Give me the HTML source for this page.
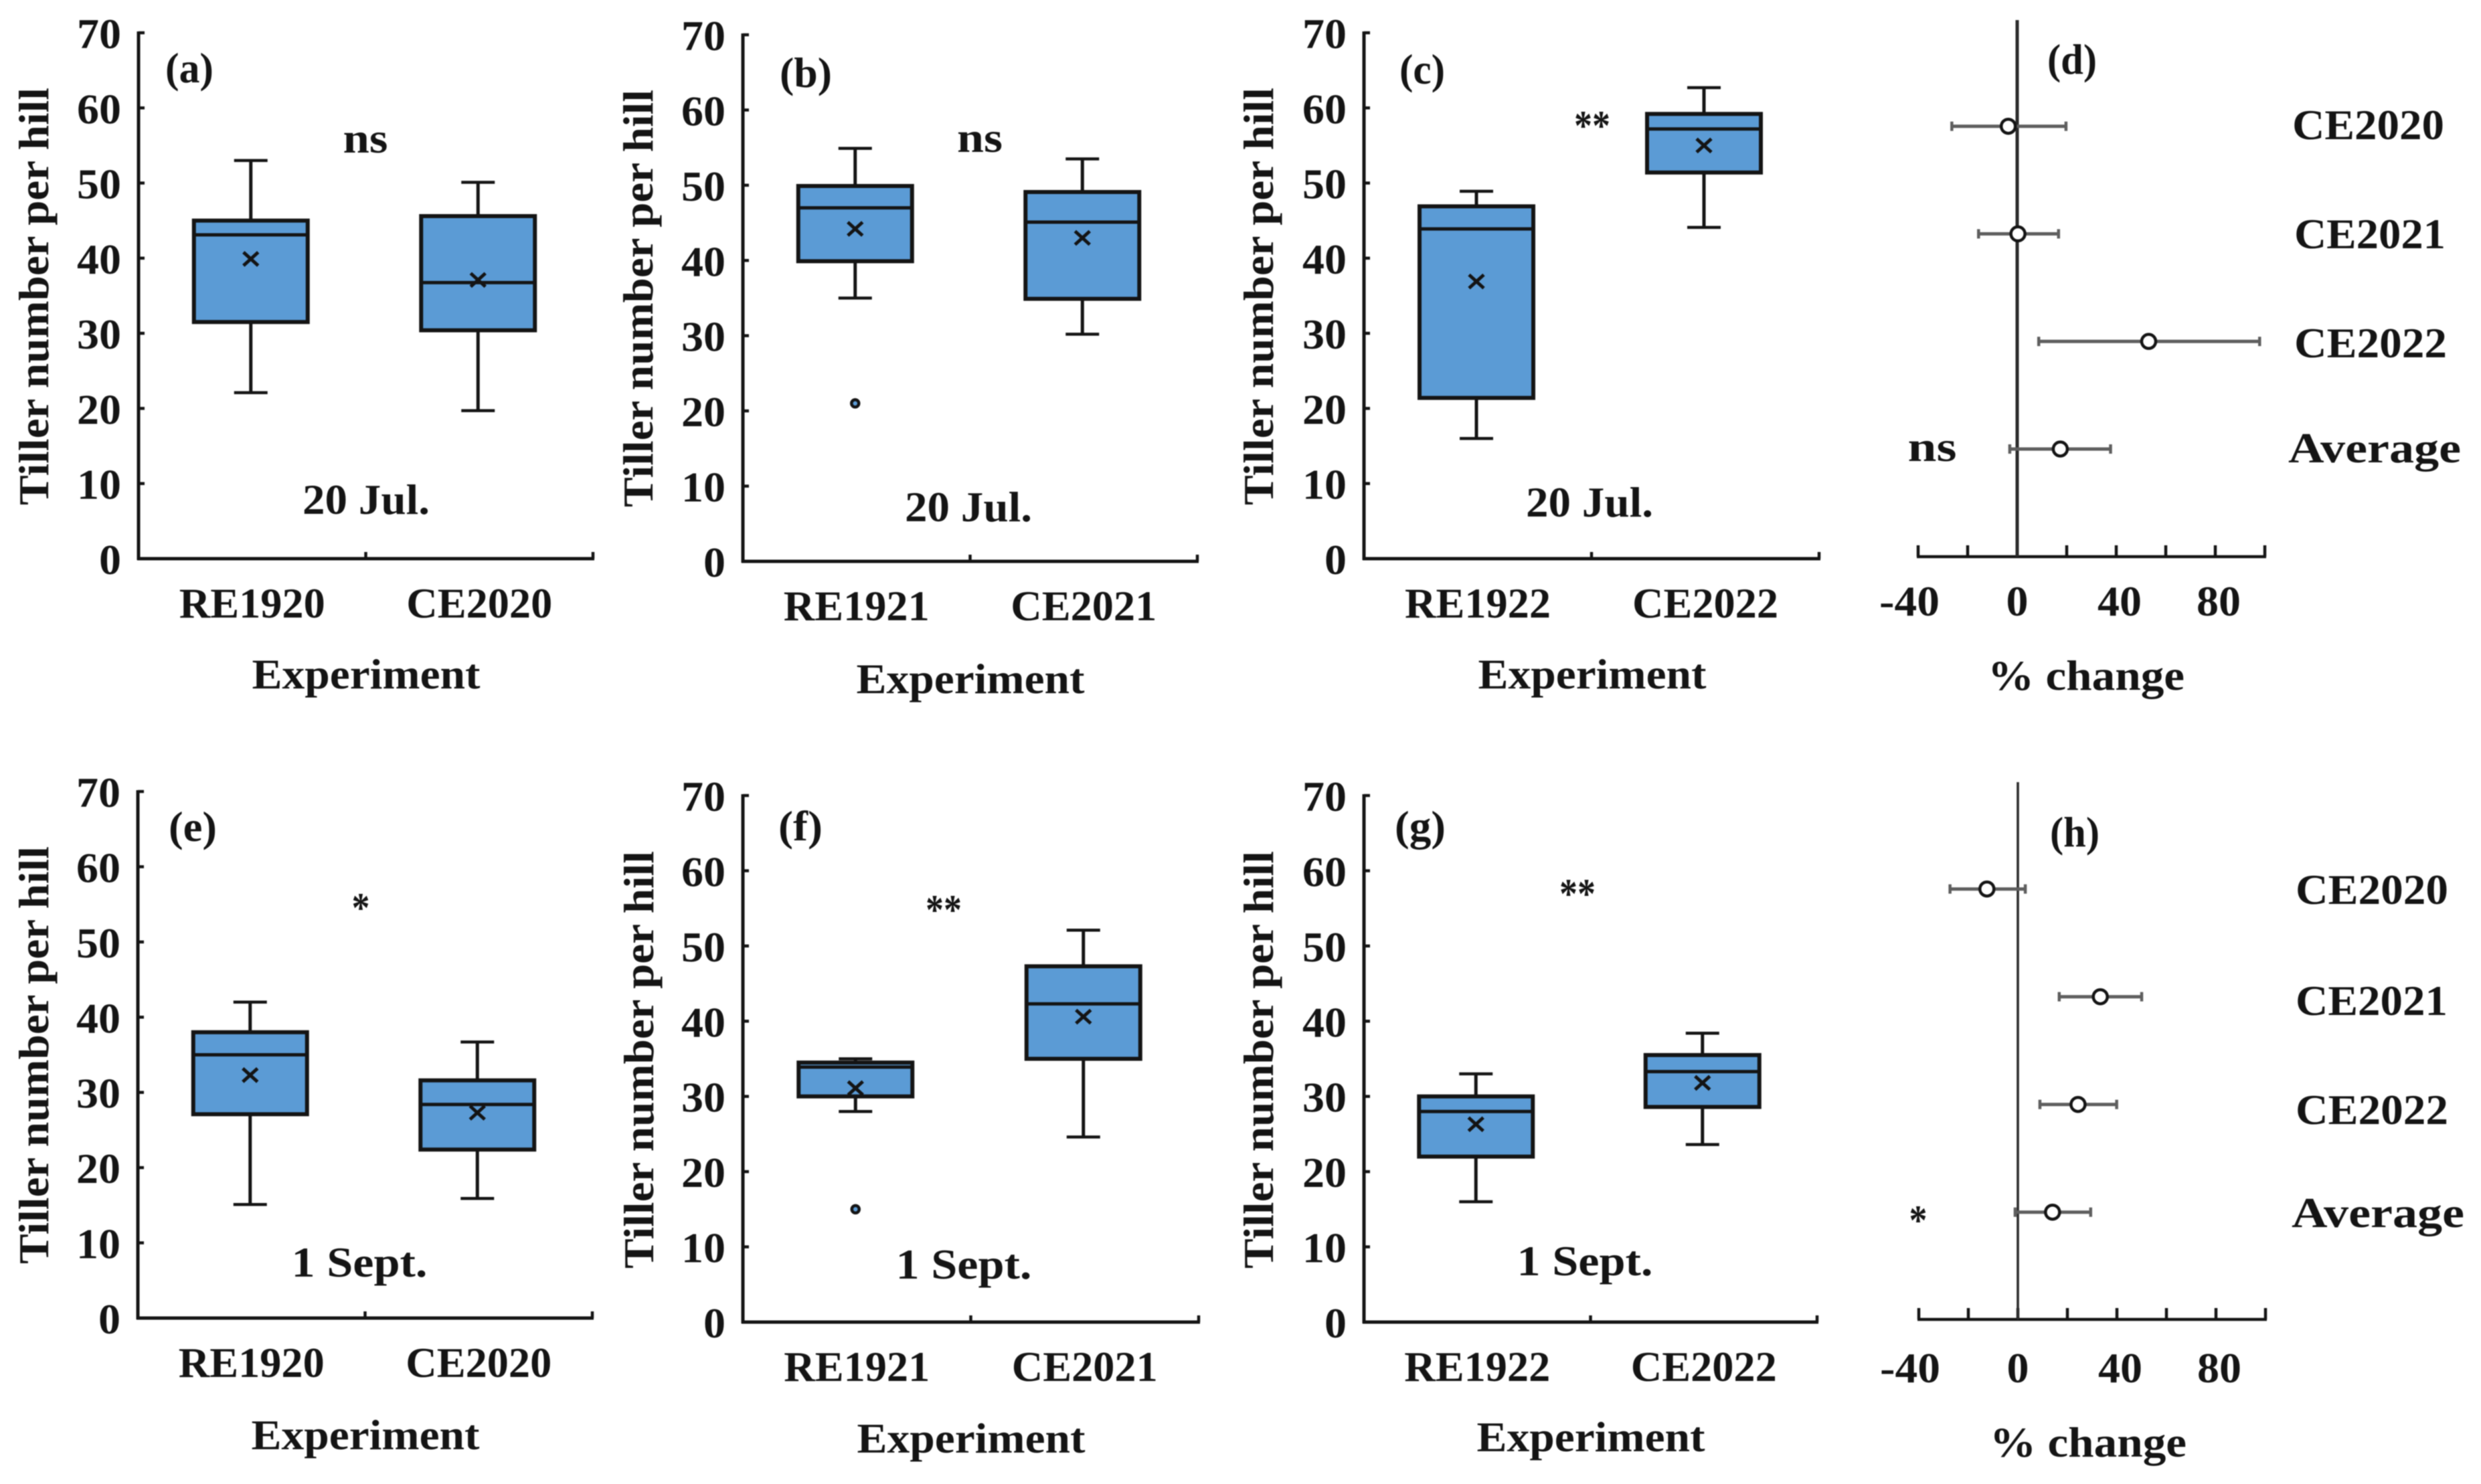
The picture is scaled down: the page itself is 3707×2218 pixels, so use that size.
<!DOCTYPE html>
<html lang="en">
<head>
<meta charset="utf-8">
<title>Tiller number per hill</title>
<style>
html,body{margin:0;padding:0;background:#fff;width:3707px;height:2218px;overflow:hidden}
svg{display:block;filter:blur(0.9px)}
text{font-family:"Liberation Serif","DejaVu Serif",serif;font-weight:700;font-size:64px;fill:#141414}
.mid{text-anchor:middle}
</style>
</head>
<body>
<svg id="figure" xmlns="http://www.w3.org/2000/svg" width="3707" height="2218" viewBox="0 0 3707 2218">
<rect x="0" y="0" width="3707" height="2218" fill="#fff"/>

<g id="panel-a">
<text class="mid" transform="translate(72 443) rotate(-90)" textLength="624" lengthAdjust="spacingAndGlyphs">Tiller number per hill</text>
<text class="mid" x="547" y="1029" textLength="341" lengthAdjust="spacingAndGlyphs">Experiment</text>
<text class="mid" x="283" y="123" textLength="72" lengthAdjust="spacingAndGlyphs">(a)</text>
<text class="mid" x="546" y="228" textLength="67" lengthAdjust="spacingAndGlyphs">ns</text>
<text class="mid" x="547" y="768" textLength="190" lengthAdjust="spacingAndGlyphs">20 Jul.</text>
</g>

<g id="panel-b">
<text class="mid" transform="translate(975 446) rotate(-90)" textLength="624" lengthAdjust="spacingAndGlyphs">Tiller number per hill</text>
<text class="mid" x="1450" y="1036" textLength="341" lengthAdjust="spacingAndGlyphs">Experiment</text>
<text class="mid" x="1204" y="130" textLength="78" lengthAdjust="spacingAndGlyphs">(b)</text>
<text class="mid" x="1464" y="227" textLength="68" lengthAdjust="spacingAndGlyphs">ns</text>
<text class="mid" x="1447" y="779" textLength="190" lengthAdjust="spacingAndGlyphs">20 Jul.</text>
</g>

<g id="panel-c">
<text class="mid" transform="translate(1902 443) rotate(-90)" textLength="624" lengthAdjust="spacingAndGlyphs">Tiller number per hill</text>
<text class="mid" x="2379" y="1029" textLength="341" lengthAdjust="spacingAndGlyphs">Experiment</text>
<text class="mid" x="2125" y="125" textLength="68" lengthAdjust="spacingAndGlyphs">(c)</text>
<text class="mid" x="2379" y="209" textLength="54" lengthAdjust="spacingAndGlyphs">**</text>
<text class="mid" x="2375" y="772" textLength="190" lengthAdjust="spacingAndGlyphs">20 Jul.</text>
</g>

<g id="panel-d">
<text class="mid" x="3117" y="1031" textLength="294" lengthAdjust="spacingAndGlyphs">% change</text>
<text class="mid" x="3096" y="110" textLength="74" lengthAdjust="spacingAndGlyphs">(d)</text>
<text x="3425" y="208" textLength="227" lengthAdjust="spacingAndGlyphs">CE2020</text>
<text x="3428" y="371" textLength="226" lengthAdjust="spacingAndGlyphs">CE2021</text>
<text x="3428" y="534" textLength="228" lengthAdjust="spacingAndGlyphs">CE2022</text>
<text x="3419" y="691" textLength="258" lengthAdjust="spacingAndGlyphs">Average</text>
<text class="mid" x="2887" y="689" textLength="73" lengthAdjust="spacingAndGlyphs">ns</text>
</g>

<g id="panel-e">
<text class="mid" transform="translate(72 1577) rotate(-90)" textLength="624" lengthAdjust="spacingAndGlyphs">Tiller number per hill</text>
<text class="mid" x="546" y="2166" textLength="341" lengthAdjust="spacingAndGlyphs">Experiment</text>
<text class="mid" x="288" y="1257" textLength="72" lengthAdjust="spacingAndGlyphs">(e)</text>
<text class="mid" x="539" y="1378" textLength="27" lengthAdjust="spacingAndGlyphs">*</text>
<text class="mid" x="537" y="1908" textLength="203" lengthAdjust="spacingAndGlyphs">1 Sept.</text>
</g>

<g id="panel-f">
<text class="mid" transform="translate(976 1584) rotate(-90)" textLength="624" lengthAdjust="spacingAndGlyphs">Tiller number per hill</text>
<text class="mid" x="1451" y="2171" textLength="341" lengthAdjust="spacingAndGlyphs">Experiment</text>
<text class="mid" x="1196" y="1256" textLength="66" lengthAdjust="spacingAndGlyphs">(f)</text>
<text class="mid" x="1410" y="1381" textLength="54" lengthAdjust="spacingAndGlyphs">**</text>
<text class="mid" x="1440" y="1911" textLength="203" lengthAdjust="spacingAndGlyphs">1 Sept.</text>
</g>

<g id="panel-g">
<text class="mid" transform="translate(1902 1584) rotate(-90)" textLength="624" lengthAdjust="spacingAndGlyphs">Tiller number per hill</text>
<text class="mid" x="2377" y="2169" textLength="341" lengthAdjust="spacingAndGlyphs">Experiment</text>
<text class="mid" x="2122" y="1256" textLength="76" lengthAdjust="spacingAndGlyphs">(g)</text>
<text class="mid" x="2357" y="1357" textLength="54" lengthAdjust="spacingAndGlyphs">**</text>
<text class="mid" x="2368" y="1906" textLength="203" lengthAdjust="spacingAndGlyphs">1 Sept.</text>
</g>

<g id="panel-h">
<text class="mid" x="3120" y="2177" textLength="294" lengthAdjust="spacingAndGlyphs">% change</text>
<text class="mid" x="3100" y="1265" textLength="74" lengthAdjust="spacingAndGlyphs">(h)</text>
<text x="3430" y="1351" textLength="228" lengthAdjust="spacingAndGlyphs">CE2020</text>
<text x="3430" y="1517" textLength="227" lengthAdjust="spacingAndGlyphs">CE2021</text>
<text x="3430" y="1680" textLength="228" lengthAdjust="spacingAndGlyphs">CE2022</text>
<text x="3424" y="1834" textLength="258" lengthAdjust="spacingAndGlyphs">Average</text>
<text class="mid" x="2866" y="1845" textLength="27" lengthAdjust="spacingAndGlyphs">*</text>
</g>
</svg>

<script>
// Box-plot data: one row per panel (a, b, c, e, f, g); each row holds [RE, CE]
const boxPanels = ['a', 'b', 'c', 'e', 'f', 'g'];
const boxCategories = [['RE1920','CE2020'],['RE1921','CE2021'],['RE1922','CE2022'],['RE1920','CE2020'],['RE1921','CE2021'],['RE1922','CE2022']];
const whiskerHigh = [[53,50.1],[54.9,53.5],[48.9,62.7],[42,36.7],[35,52.1],[33,38.4]];
const quartile3 = [[45,45.6],[49.9,49.1],[46.9,59.2],[38,31.6],[34.5,47.3],[30,35.5]];
const medians = [[43.1,36.75],[47,45.1],[43.9,57.2],[35,28.4],[33.9,42.3],[28,33.3]];
const means = [[39.9,37.1],[44.2,43],[36.9,55],[32.3,27.3],[31.1,40.6],[26.3,31.8]];
const quartile1 = [[31.5,30.4],[39.9,34.9],[21.4,51.4],[27.1,22.4],[30,35],[22,28.6]];
const whiskerLow = [[22.1,19.7],[35,30.2],[16,44.1],[15.1,15.9],[28,24.6],[16,23.6]];
const outliers = [[null,null],[21,null],[null,null],[null,null],[15,null],[null,null]];
const yTickValues = [0,10,20,30,40,50,60,70];

// Forest-plot data: one row per panel (d, h); each row holds [CE2020, CE2021, CE2022, Average]
const forestPanels = ['d', 'h'];
const forestMeans = [[-3.6,0.3,53.1,17.4],[-12.5,33.3,24.3,14]];
const forestLow = [[-26.4,-15.6,8.7,-3],[-27.4,16.7,8.9,-1.1]];
const forestHigh = [[19.7,16.7,97.9,37.7],[3,50,39.9,29.4]];
const forestTickValues = [-40,-20,0,20,40,60,80,100];
const forestTickLabels = ['-40','0','40','80'];

// Layout only (not data)
const boxLayout = {
  a:{x0:207,x1:886,yTop:49,yBase:835},
  b:{x0:1110,x1:1789,yTop:52,yBase:839},
  c:{x0:2038,x1:2718,yTop:49,yBase:835},
  e:{x0:206,x1:885,yTop:1183,yBase:1970},
  f:{x0:1110,x1:1791,yTop:1189,yBase:1976},
  g:{x0:2038,x1:2715,yTop:1189,yBase:1976}
};
const forestLayout = {
  d:{zero:3014,yTop:30,yBase:832,rowStart:188.7,rowGap:160.8,tickLabelY:920,zeroWidth:5},
  h:{zero:3015,yTop:1169,yBase:1972,rowStart:1328.7,rowGap:161,tickLabelY:2066,zeroWidth:3.6}
};
const NS = 'http://www.w3.org/2000/svg';
const INK = '#141414';
const BOX_FILL = '#5B9BD5';
const ERR = '#5e5e5e';

function mk(parent, tag, attrs) {
  const el = document.createElementNS(NS, tag);
  for (const k in attrs) el.setAttribute(k, attrs[k]);
  parent.appendChild(el);
  return el;
}
function seg(parent, x1, y1, x2, y2, stroke, width) {
  return mk(parent, 'line', {x1:x1, y1:y1, x2:x2, y2:y2, stroke:stroke, 'stroke-width':width});
}

boxPanels.forEach(function (p, pi) {
  const L = boxLayout[p];
  const root = document.getElementById('panel-' + p);
  const yScale = function (v) { return L.yBase - (v / 70) * (L.yBase - L.yTop); };
  const band = (L.x1 - L.x0) / 2;
  const xScale = function (i) { return L.x0 + band * (i + 0.5) - 2; };

  const yAxis = seg(root, L.x0, L.yTop - 2, L.x0, L.yBase + 2, INK, 5);
  
  
  const xAxis = seg(root, L.x0 - 2, L.yBase, L.x1 + 2, L.yBase, INK, 5);
  
  

  [L.x0 + band, L.x1].forEach(function (tx, ti) {
    const t = seg(root, tx, L.yBase, tx, L.yBase - 10, INK, 4.5);
    
    
  });

  yTickValues.forEach(function (v) {
    const t = seg(root, L.x0, yScale(v), L.x0 + 9, yScale(v), INK, 4.5);
    
    
    const lab = mk(root, 'text', {x:L.x0 - 26, y:yScale(v) + 23, 'text-anchor':'end', textLength:v === 0 ? 33 : 66, lengthAdjust:'spacingAndGlyphs'});
    lab.textContent = String(v);
    
    
  });

  boxCategories[pi].forEach(function (cat, i) {
    const cx = xScale(i);
    const g = mk(root, 'g', {});
    
    

    const wh = seg(g, cx, yScale(whiskerHigh[pi][i]), cx, yScale(whiskerLow[pi][i]), INK, 5);
    
    
    const capHi = seg(g, cx - 25, yScale(whiskerHigh[pi][i]), cx + 25, yScale(whiskerHigh[pi][i]), INK, 4.5);
    
    
    const capLo = seg(g, cx - 25, yScale(whiskerLow[pi][i]), cx + 25, yScale(whiskerLow[pi][i]), INK, 4.5);
    
    

    const top = yScale(quartile3[pi][i]);
    const bot = yScale(quartile1[pi][i]);
    const rect = mk(g, 'rect', {x:cx - 85, y:top, width:170, height:bot - top, fill:BOX_FILL, stroke:INK, 'stroke-width':6});
    
    

    const med = seg(g, cx - 85, yScale(medians[pi][i]), cx + 85, yScale(medians[pi][i]), INK, 5);
    
    

    const my = yScale(means[pi][i]);
    const m1 = seg(g, cx - 11, my - 10, cx + 11, my + 10, INK, 5);
    
    
    const m2 = seg(g, cx - 11, my + 10, cx + 11, my - 10, INK, 5);
    
    

    if (outliers[pi][i] !== null) {
      const o = mk(g, 'circle', {cx:cx, cy:yScale(outliers[pi][i]), r:5.5, fill:BOX_FILL, stroke:INK, 'stroke-width':4.5});
      
      
    }

    const lab = mk(root, 'text', {x:cx + 2, y:L.yBase + 88, 'text-anchor':'middle', textLength:218, lengthAdjust:'spacingAndGlyphs'});
    lab.textContent = cat;
    
    
  });
});

forestPanels.forEach(function (p, pi) {
  const L = forestLayout[p];
  const root = document.getElementById('panel-' + p);
  const unit = 3.7;
  const xScale = function (v) { return L.zero + v * unit; };
  const rowY = function (i) { return L.rowStart + i * L.rowGap; };

  const axis = seg(root, xScale(-40) - 2, L.yBase, xScale(100) + 2, L.yBase, INK, 4.5);
  
  

  forestTickValues.forEach(function (v) {
    const t = seg(root, xScale(v), L.yBase, xScale(v), L.yBase - 17, INK, 4.5);
    
    
  });

  forestTickLabels.forEach(function (s) {
    const v = Number(s);
    const lab = mk(root, 'text', {x:xScale(v) + (v < 0 ? -13 : v === 0 ? 0 : 5), y:L.tickLabelY, 'text-anchor':'middle', textLength:v < 0 ? 90 : v === 0 ? 33 : 66, lengthAdjust:'spacingAndGlyphs'});
    lab.textContent = s;
    
    
  });

  const zero = seg(root, L.zero, L.yTop, L.zero, L.yBase, '#2a2a2a', L.zeroWidth);
  
  

  forestMeans[pi].forEach(function (m, i) {
    const y = rowY(i);
    const g = mk(root, 'g', {});
    
    

    const bar = seg(g, xScale(forestLow[pi][i]), y, xScale(forestHigh[pi][i]), y, ERR, 5);
    
    
    const capL = seg(g, xScale(forestLow[pi][i]), y - 7, xScale(forestLow[pi][i]), y + 7, ERR, 4.5);
    
    
    const capR = seg(g, xScale(forestHigh[pi][i]), y - 7, xScale(forestHigh[pi][i]), y + 7, ERR, 4.5);
    
    
    const dot = mk(g, 'circle', {cx:xScale(m), cy:y, r:10.5, fill:'#fff', stroke:INK, 'stroke-width':4.5});
    
    
  });
});
</script>
</body>
</html>
